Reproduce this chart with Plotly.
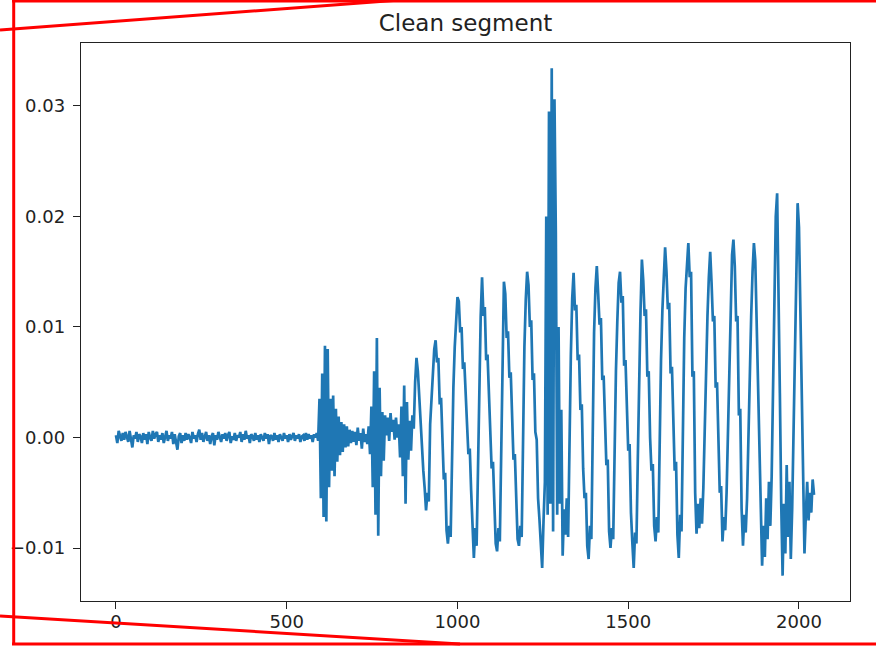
import numpy as np
import plotly.graph_objects as go

# Signal amplitude, one reading every 4 samples (values in units of 1e-3)
sample_step = 4
n_samples = 2048
signal_milli = [
    # 0 - 96
    0.2, -0.5, 0.6, 0.1, -0.3, 0.4, -0.2, 0.5, 0.0, -0.4, 0.6, -0.3, -0.9, 0.2, -0.1, 0.5, -0.4, 0.3, 0.1, -0.5, 0.4, -0.2, 0.3, -0.6, 0.5,
    # 100 - 196
    0.0, -0.3, 0.6, -0.1, 0.3, 0.5, -0.4, 0.2, -0.2, 0.4, -0.5, 0.1, 0.6, -0.3, 0.2, -0.1, 0.5, -0.6, 0.3, -0.4, -1.1, 0.1, 0.4, -0.5, 0.2,
    # 200 - 296
    -0.3, 0.4, -0.2, 0.3, 0.0, -0.5, 0.5, -0.1, 0.2, -0.4, 0.3, 0.7, -0.2, 0.4, -0.4, 0.1, 0.5, -0.3, 0.2, -0.6, 0.1, 0.4, -0.7, 0.2, -0.2,
    # 300 - 396
    0.5, 0.0, -0.4, 0.3, -0.1, 0.4, -0.3, 0.2, 0.5, -0.5, 0.1, -0.2, 0.4, -0.3, 0.2, 0.0, 0.5, -0.4, 0.3, -0.2, 0.6, -0.1, 0.2, -0.5, 0.3,
    # 400 - 496
    0.1, -0.3, 0.4, -0.2, 0.2, -0.4, 0.3, 0.0, -0.3, 0.4, -0.1, 0.3, -0.6, 0.2, 0.1, -0.3, 0.4, -0.2, 0.2, -0.4, 0.3, 0.0, -0.3, 0.4, -0.1,
    # 500 - 596
    0.2, -0.4, 0.3, -0.2, 0.1, 0.4, -0.3, 0.2, -0.1, 0.3, -0.4, 0.1, 0.2, -0.3, 0.4, -0.2, 0.3, -0.1, 0.2, -0.4, 0.3, 0.0, 0.4, -0.3, 3.5,
    # 600 - 696
    -5.5, 5.8, -7.2, 8.3, -7.6, 8.0, -4.5, 3.5, -3.0, 3.8, -3.5, 2.6, -2.2, 1.9, -1.6, 1.4, -1.3, 1.2, -0.9, 1.0, -0.8, 0.7, -0.5, 0.6, -0.4,
    # 700 - 796
    0.5, -0.7, 0.9, -0.3, 0.4, -1.0, 0.8, -0.4, 0.3, -0.6, 1.0, -1.5, 2.8, -4.5, 6.0, -7.0, 9.0, -8.9, 4.5, -3.5, 2.3, -2.1, 2.0, 0.2, 1.8,
    # 800 - 896
    -0.3, 2.2, 0.5, 1.6, -0.2, 1.8, 0.0, 1.2, -1.8, 2.8, -3.5, 4.7, -6.0, 3.2, -2.0, 1.5, -1.2, 2.0, 0.8, 5.0, 7.2, 6.0, 3.6, 1.5, -1.0,
    # 900 - 996
    -3.0, -4.6, -6.6, -5.0, -5.8, 1.2, 3.8, 6.4, 8.0, 8.8, 6.8, 7.2, 3.0, 3.6, -1.0, -3.8, -3.2, -8.4, -9.6, -8.0, -9.0, 0.2, 4.5, 8.2, 11.2,
    # 1000 - 1096
    12.7, 12.3, 9.5, 10.0, 6.2, 6.8, 3.0, 1.2, -1.5, -1.0, -4.8, -7.6, -10.9, -8.2, -9.8, -3.0, 4.5, 11.0, 14.5, 11.0, 11.8, 7.0, 7.5, 3.5, 1.2,
    # 1100 - 1196
    -2.8, -2.2, -6.5, -9.6, -10.3, -8.2, -9.4, -1.5, 6.5, 14.1, 13.0, 9.0, 9.6, 5.4, 5.9, 1.0, -2.0, -1.5, -6.5, -9.2, -9.8, -8.0, -9.0, 0.5, 8.2,
    # 1200 - 1296
    12.5, 15.0, 13.8, 10.0, 10.6, 5.2, 5.8, 0.5, -0.2, -5.5, -7.4, -10.2, -11.8, -7.5, -4.0, 20.0, -7.0, 29.5, -6.0, 33.4, -8.5, 30.6, 18.5, -7.0, 10.0,
    # 1300 - 1396
    -6.0, 2.5, -10.7, -6.5, -8.8, -5.5, -9.0, 0.5, 7.5, 12.6, 14.9, 11.5, 12.0, 7.0, 7.5, 2.5, 3.0, -2.8, -5.5, -5.0, -9.8, -11.0, -8.0, -9.2, 2.0,
    # 1400 - 1496
    9.5, 13.5, 15.5, 13.0, 10.2, 10.8, 5.2, 5.6, 0.5, -2.5, -2.0, -8.5, -10.0, -8.2, -9.2, -1.0, 6.0, 10.5, 14.0, 15.0, 12.2, 12.8, 6.5, 7.0, 1.5,
    # 1500 - 1596
    -1.2, -0.6, -6.8, -9.5, -11.8, -8.6, -9.6, -2.0, 6.5, 11.5, 16.1, 14.2, 11.0, 11.6, 5.5, 6.0, 0.0, -3.0, -2.4, -8.0, -9.4, -7.2, -8.6, 1.5, 7.0,
    # 1600 - 1696
    11.5, 15.0, 17.2, 15.0, 11.6, 12.2, 5.8, 6.4, 0.2, -3.0, -2.2, -8.8, -10.9, -7.0, -8.5, 3.5, 9.0, 13.5, 16.0, 17.6, 14.5, 15.0, 5.5, 6.0, -5.0,
    # 1700 - 1796
    -8.7, -6.0, -8.2, -5.5, -7.8, -4.5, 1.0, 6.5, 11.0, 14.5, 16.8, 14.0, 10.5, 11.0, 4.5, 5.0, -1.8, -5.0, -4.4, -9.4, -7.2, -8.4, -5.0, 1.0, 7.5,
    # 1800 - 1896
    12.5, 16.5, 17.9, 15.5, 10.5, 11.0, 2.0, 2.6, -6.5, -9.8, -7.0, -8.6, -5.5, 0.5, 6.0, 11.0, 15.0, 17.6, 16.0, 11.0, 5.0, -1.0, -6.5, -11.6, -8.0,
    # 1900 - 1996
    -10.8, -5.5, -9.2, -4.0, -8.0, -3.5, 5.0, 14.5, 20.0, 22.1, 15.0, 4.0, -6.0, -12.5, -6.0, -10.5, -2.5, -9.0, -4.0, -11.0, -6.5, 0.5, 9.0, 16.0, 21.2,
    # 2000 - 2044
    19.0, 11.0, 3.0, -4.5, -10.5, -7.0, -4.0, -7.5, -5.0, -6.8, -3.8, -5.2,
]

x_tick_vals = [0, 500, 1000, 1500, 2000]
x_tick_text = ["0", "500", "1000", "1500", "2000"]
y_tick_vals = [-0.01, 0.0, 0.01, 0.02, 0.03]
y_tick_text = ["\u22120.01", "0.00", "0.01", "0.02", "0.03"]

samples = np.arange(len(signal_milli)) * sample_step
signal = np.array(signal_milli) * 1e-3

# matplotlib-like 5% data margins
x_pad = 0.05 * (n_samples - 1)
x_range = [-x_pad, (n_samples - 1) + x_pad]
y_lo, y_hi = signal.min(), signal.max()
y_pad = 0.05 * (y_hi - y_lo)
y_range = [y_lo - y_pad, y_hi + y_pad]

W, H = 876, 646
ML, MR, MT, MB = 81, 26, 43, 45
PW, PH = W - ML - MR, H - MT - MB


def px(xp):
    return (xp - ML) / PW


def py(yp):
    return (H - MB - yp) / PH


fig = go.Figure()
fig.add_trace(go.Scatter(
    x=samples, y=signal, mode="lines",
    line=dict(color="#1f77b4", width=2.7),
    showlegend=False, hoverinfo="skip",
))

axis_common = dict(
    showgrid=False, zeroline=False, showline=True, mirror=True,
    linecolor="#222222", linewidth=1.4, ticks="outside", ticklen=7,
    tickwidth=1.4, tickcolor="#222222", automargin=False,
    tickfont=dict(family="DejaVu Sans", size=18, color="#222222"),
)
fig.update_xaxes(range=x_range, tickvals=x_tick_vals, ticktext=x_tick_text,
                 ticklabelstandoff=-3, **axis_common)
fig.update_yaxes(range=y_range, tickvals=y_tick_vals, ticktext=y_tick_text,
                 ticklabelstandoff=4, **axis_common)

# red frame and guide strokes
red = dict(color="#ff0000", width=3)
frame_lines = [
    (13.7, 0, 13.7, 644),
    (12, 1, W, 1),
    (12, 644, W, 644),
    (0, 30, 400, 0),
    (0, 616, 460, 644),
]
for x0, y0, x1, y1 in frame_lines:
    fig.add_shape(type="line", xref="paper", yref="paper",
                  x0=px(x0), y0=py(y0), x1=px(x1), y1=py(y1),
                  line=red, layer="above")

fig.update_layout(
    width=W, height=H, autosize=False,
    margin=dict(l=ML, r=MR, t=MT, b=MB, pad=0),
    paper_bgcolor="white", plot_bgcolor="white",
    template="none",
    title=dict(text="Clean segment", x=0.5, xref="paper", xanchor="center",
               y=1, yref="paper", yanchor="bottom", pad=dict(b=12),
               font=dict(family="DejaVu Sans", size=23, color="#222222")),
    font=dict(family="DejaVu Sans", color="#222222"),
)

fig.write_html("out.html")
